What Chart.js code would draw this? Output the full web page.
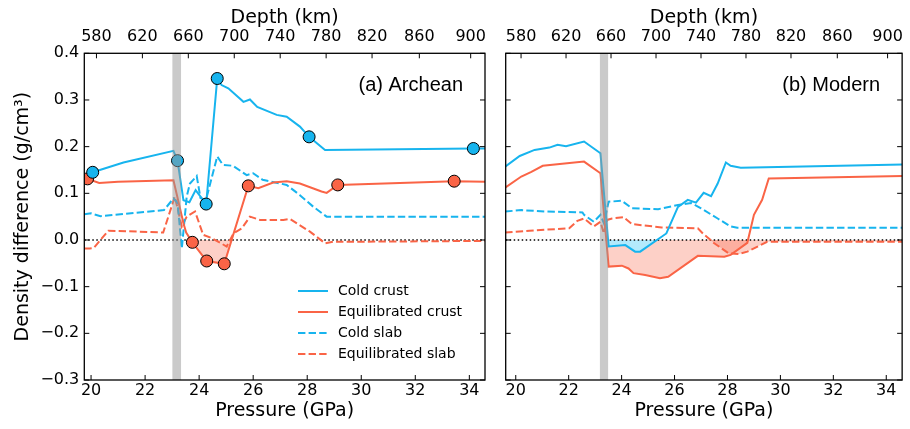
<!DOCTYPE html>
<html>
<head>
<meta charset="utf-8">
<script src="https://cdn.jsdelivr.net/npm/chart.js@4.4.0/dist/chart.umd.min.js"></script>
<style>
  body { margin: 0; background: #fff; }
  #wrap { position: relative; width: 910px; height: 429px; }
  canvas { position: absolute; top: 0; }
</style>
</head>
<body>
<div id="wrap">
  <canvas id="archean" width="495" height="429" style="left:0"></canvas>
  <canvas id="modern" width="415" height="429" style="left:495px"></canvas>
</div>
<script>
const BLUE = '#17b4ee';
const RED = '#fa6446';
const PINK_FILL = 'rgba(250, 100, 70, 0.3)';
const BLUE_FILL = '#b3eafc';

const pressureTicks = [20, 22, 24, 26, 28, 30, 32, 34];
const densityTicks = [-0.3, -0.2, -0.1, 0, 0.1, 0.2, 0.3, 0.4];
const depthLabels = [580, 620, 660, 700, 740, 780, 820, 860, 900];
const depthTickP = [20.2, 21.9, 23.6, 25.3, 27.0, 28.7, 30.4, 32.15, 34.05];
const seriesNames = ['Cold crust', 'Equilibrated crust', 'Cold slab', 'Equilibrated slab'];

// (a) Archean
const archRange = [19.75, 34.58];
const archBand = [23.01, 23.33];
const archCcP = [19.75, 20.06, 21.2, 23.05, 23.2, 23.42, 23.64, 23.87, 24.26, 24.67, 24.83, 25.08, 25.64, 25.88, 26.15, 26.87, 27.24, 27.73, 28.07, 28.66, 34.15, 34.6];
const archCcV = [0.138, 0.145, 0.166, 0.191, 0.170, 0.085, 0.081, 0.107, 0.077, 0.346, 0.332, 0.325, 0.296, 0.301, 0.285, 0.268, 0.264, 0.243, 0.221, 0.193, 0.196, 0.196];
const archEcP = [19.75, 19.87, 20.3, 21.0, 23.05, 23.42, 23.52, 23.75, 24.28, 24.93, 25.82, 26.19, 26.74, 27.24, 27.73, 28.53, 28.72, 29.13, 33.44, 34.6];
const archEcV = [0.128, 0.131, 0.122, 0.125, 0.128, 0.036, 0.016, -0.005, -0.045, -0.051, 0.116, 0.111, 0.123, 0.126, 0.121, 0.104, 0.101, 0.118, 0.126, 0.125];
const archCsP = [19.75, 20.0, 20.35, 22.7, 23.05, 23.2, 23.36, 23.54, 23.66, 23.91, 24.05, 24.25, 24.67, 24.88, 25.25, 25.76, 26.0, 26.35, 27.24, 27.73, 28.23, 28.72, 34.6];
const archCsV = [0.055, 0.057, 0.051, 0.064, 0.089, 0.08, -0.018, 0.093, 0.121, 0.137, 0.09, 0.085, 0.179, 0.161, 0.159, 0.139, 0.143, 0.129, 0.118, 0.096, 0.071, 0.05, 0.05];
const archEsP = [19.75, 19.95, 20.1, 20.64, 22.67, 23.1, 23.36, 23.54, 23.85, 24.15, 24.47, 25.02, 25.27, 25.58, 25.88, 26.25, 27.12, 27.36, 28.1, 28.66, 28.95, 34.6];
const archEsV = [-0.018, -0.018, -0.017, 0.02, 0.016, 0.093, 0.029, 0.05, 0.061, 0.011, 0.004, -0.014, 0.014, 0.025, 0.05, 0.043, 0.043, 0.045, 0.018, -0.007, -0.004, -0.002];
const archCcMarkP = [20.06, 23.2, 24.26, 24.67, 28.07, 34.15];
const archCcMarkV = [0.145, 0.170, 0.077, 0.346, 0.221, 0.196];
const archEcMarkP = [19.87, 23.75, 24.28, 24.93, 25.82, 29.13, 33.44];
const archEcMarkV = [0.131, -0.005, -0.045, -0.051, 0.116, 0.118, 0.126];

// (b) Modern
const modRange = [19.62, 34.6];
const modBand = [23.18, 23.49];
const modCcP = [19.6, 20.15, 20.71, 21.27, 21.58, 21.9, 22.58, 23.2, 23.51, 24.14, 24.51, 24.7, 25.69, 26.13, 26.5, 26.81, 27.1, 27.38, 27.63, 27.94, 28.12, 28.5, 34.62];
const modCcV = [0.157, 0.18, 0.193, 0.198, 0.204, 0.201, 0.211, 0.186, -0.014, -0.011, -0.025, -0.025, 0.014, 0.071, 0.086, 0.08, 0.101, 0.094, 0.121, 0.166, 0.159, 0.155, 0.162];
const modEcP = [19.6, 20.21, 20.59, 21.02, 22.58, 23.2, 23.51, 24.01, 24.26, 24.45, 24.89, 25.45, 25.76, 26.88, 27.88, 28.12, 28.75, 29.0, 29.31, 29.56, 34.62];
const modEcV = [0.112, 0.136, 0.146, 0.159, 0.168, 0.143, -0.057, -0.055, -0.061, -0.071, -0.075, -0.082, -0.079, -0.034, -0.036, -0.032, -0.006, 0.054, 0.086, 0.132, 0.137];
const modCsP = [19.6, 20.21, 21.15, 22.52, 22.58, 22.95, 23.2, 23.33, 23.51, 24.01, 24.39, 25.38, 26.13, 26.63, 27.0, 27.63, 28.12, 28.37, 34.62];
const modCsV = [0.061, 0.064, 0.061, 0.059, 0.054, 0.039, 0.054, 0.036, 0.082, 0.084, 0.068, 0.066, 0.075, 0.079, 0.068, 0.046, 0.029, 0.026, 0.026];
const modEsP = [19.6, 20.52, 22.02, 22.33, 22.58, 22.95, 23.2, 23.33, 23.45, 23.64, 24.07, 24.39, 25.51, 26.88, 27.07, 27.5, 28.06, 28.44, 28.75, 29.5, 29.87, 34.62];
const modEsV = [0.016, 0.02, 0.025, 0.041, 0.046, 0.029, 0.039, 0.014, 0.043, 0.046, 0.049, 0.034, 0.027, 0.025, 0.014, -0.007, -0.029, -0.03, -0.025, -0.004, -0.004, -0.004];

Chart.defaults.font.family = "'DejaVu Sans', sans-serif";
Chart.defaults.color = '#000';

const pts = (xs, ys) => xs.map((x, i) => ({ x: x, y: ys[i] }));

function lineDs(label, xs, ys, color, dashed, fillColor) {
    return {
        label: label,
        data: pts(xs, ys),
        borderColor: color,
        borderWidth: 2,
        borderDash: dashed ? [7.4, 3.2] : [],
        pointRadius: 0,
        tension: 0,
        fill: fillColor ? { target: 'origin', above: 'rgba(0,0,0,0)', below: fillColor } : false
    };
}

function markerDs(xs, ys, color) {
    return {
        label: 'markers',
        data: pts(xs, ys),
        showLine: false,
        pointRadius: 6,
        pointBackgroundColor: color,
        pointBorderColor: '#000',
        pointBorderWidth: 1,
        fill: false
    };
}

const panelPlugin = {
    id: 'panel',
    beforeDatasetsDraw(chart, args, opts) {
        const { ctx, chartArea: a, scales: { y } } = chart;
        const y0 = y.getPixelForValue(0);
        ctx.save();
        ctx.strokeStyle = '#000';
        ctx.lineWidth = 1.5;
        ctx.setLineDash([1.5, 2.5]);
        ctx.beginPath();
        ctx.moveTo(a.left, y0);
        ctx.lineTo(a.right, y0);
        ctx.stroke();
        ctx.restore();
    },
    afterDatasetsDraw(chart, args, opts) {
        const { ctx, chartArea: a, scales: { x, y } } = chart;
        ctx.save();
        // 660 km band
        const b0 = x.getPixelForValue(opts.band[0]);
        const b1 = x.getPixelForValue(opts.band[1]);
        ctx.fillStyle = 'rgba(150,150,150,0.5)';
        ctx.fillRect(b0, a.top, b1 - b0, a.bottom - a.top);

        // frame + inward ticks
        ctx.strokeStyle = '#000';
        ctx.lineWidth = 1.3;
        ctx.strokeRect(a.left, a.top, a.right - a.left, a.bottom - a.top);
        ctx.lineWidth = 1;
        ctx.beginPath();
        pressureTicks.forEach(v => {
            const px = x.getPixelForValue(v);
            ctx.moveTo(px, a.bottom); ctx.lineTo(px, a.bottom - 5);
        });
        depthTickP.forEach(v => {
            const px = x.getPixelForValue(v);
            ctx.moveTo(px, a.top); ctx.lineTo(px, a.top + 5);
        });
        densityTicks.forEach(v => {
            const py = y.getPixelForValue(v);
            ctx.moveTo(a.left, py); ctx.lineTo(a.left + 5, py);
            ctx.moveTo(a.right, py); ctx.lineTo(a.right - 5, py);
        });
        ctx.stroke();

        // panel label
        ctx.font = "20px 'Liberation Sans', Arial, sans-serif";
        ctx.fillStyle = '#000';
        ctx.textAlign = 'right';
        ctx.textBaseline = 'middle';
        ctx.fillText(opts.label, a.right - 22, 85);

        // legend
        if (opts.legend) {
            const colors = [BLUE, RED, BLUE, RED];
            ctx.font = "14px 'DejaVu Sans', sans-serif";
            ctx.textAlign = 'left';
            seriesNames.forEach((name, i) => {
                const ly = 291 + i * 21;
                ctx.strokeStyle = colors[i];
                ctx.lineWidth = 2;
                ctx.setLineDash(i >= 2 ? [7.4, 3.2] : []);
                ctx.beginPath();
                ctx.moveTo(298, ly); ctx.lineTo(328, ly);
                ctx.stroke();
                ctx.fillStyle = '#000';
                ctx.fillText(name, 338, ly);
            });
        }
        ctx.restore();
    }
};

function makeChart(id, datasets, range, panel, showY, padding) {
    const tickFont = { size: 16 };
    const titleFont = { size: 19 };
    return new Chart(document.getElementById(id), {
        type: 'line',
        data: { datasets: datasets },
        plugins: [panelPlugin],
        options: {
            responsive: false,
            animation: false,
            devicePixelRatio: 1,
            layout: { padding: padding },
            plugins: {
                legend: { display: false },
                tooltip: { enabled: false },
                filler: { drawTime: 'beforeDatasetsDraw' },
                panel: panel
            },
            scales: {
                x: {
                    type: 'linear', position: 'bottom', min: range[0], max: range[1],
                    grid: { display: false, drawTicks: false }, border: { display: false },
                    afterBuildTicks: s => { s.ticks = pressureTicks.map(v => ({ value: v })); },
                    afterFit: s => { s.height = 49; },
                    ticks: { font: tickFont, color: '#000', padding: 1, maxRotation: 0, autoSkip: false },
                    title: { display: true, text: 'Pressure (GPa)', font: titleFont, color: '#000', padding: { top: 0, bottom: 7 } }
                },
                x2: {
                    type: 'linear', position: 'top', min: range[0], max: range[1],
                    grid: { display: false, drawTicks: false }, border: { display: false },
                    afterBuildTicks: s => { s.ticks = depthTickP.map(v => ({ value: v })); },
                    afterFit: s => { s.height = 53.3; },
                    ticks: { font: tickFont, color: '#000', padding: 7, maxRotation: 0, autoSkip: false,
                             callback: (v, i) => String(depthLabels[i]) },
                    title: { display: true, text: 'Depth (km)', font: titleFont, color: '#000', padding: { top: 7, bottom: 0 } }
                },
                y: {
                    type: 'linear', position: 'left', min: -0.3, max: 0.4,
                    display: showY,
                    grid: { display: false, drawTicks: false }, border: { display: false },
                    afterBuildTicks: s => { s.ticks = densityTicks.map(v => ({ value: v })); },
                    afterFit: s => { s.width = showY ? 84.3 : 0; },
                    ticks: { font: tickFont, color: '#000', padding: 5,
                             callback: v => (v < 0 ? '\u2212' : '') + Math.abs(v).toFixed(1) },
                    title: { display: true, text: 'Density difference (g/cm\u00b3)', font: titleFont, color: '#000', padding: { top: 11.6, bottom: 0 } }
                }
            }
        }
    });
}

makeChart('archean', [
    markerDs(archCcMarkP, archCcMarkV, BLUE),
    markerDs(archEcMarkP, archEcMarkV, RED),
    lineDs(seriesNames[0], archCcP, archCcV, BLUE, false, null),
    lineDs(seriesNames[1], archEcP, archEcV, RED, false, PINK_FILL),
    lineDs(seriesNames[2], archCsP, archCsV, BLUE, true, null),
    lineDs(seriesNames[3], archEsP, archEsV, RED, true, null)
], archRange, { band: archBand, label: '(a) Archean', legend: true }, true, { left: 0, right: 10, top: 0, bottom: 0 });

makeChart('modern', [
    lineDs(seriesNames[0], modCcP, modCcV, BLUE, false, BLUE_FILL),
    lineDs(seriesNames[1], modEcP, modEcV, RED, false, PINK_FILL),
    lineDs(seriesNames[2], modCsP, modCsV, BLUE, true, null),
    lineDs(seriesNames[3], modEsP, modEsV, RED, true, PINK_FILL)
], modRange, { band: modBand, label: '(b) Modern', legend: false }, false, { left: 10.7, right: 4, top: 0, bottom: 0 });
</script>
</body>
</html>
